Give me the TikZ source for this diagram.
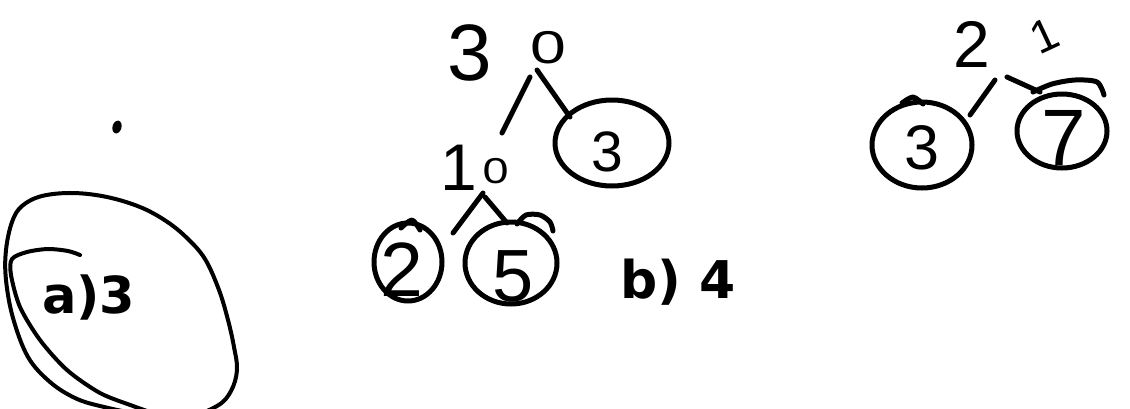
\documentclass[tikz,border=0pt]{standalone}
\usepackage{fontspec}
\usepackage{graphicx}
\newfontfamily\hwfont{Liberation Sans}
\newfontfamily\lblfont{DejaVu Sans}
\newcommand\fsz[1]{\fontsize{#1pt}{#1pt}\selectfont}
\usetikzlibrary{shapes.geometric,calc}
\tikzset{
  ink/.style={line width=5pt, line cap=round, line join=round, draw=black},
  hwtext/.style={inner sep=0pt, outer sep=0pt, font=\hwfont},
  lbltext/.style={inner sep=0pt, outer sep=0pt, font=\lblfont\bfseries},
  ring/.style={ellipse, draw=black, line width=5pt, inner sep=0pt, outer sep=0pt},
  edge/.style={ink},
  pen/.style={line width=4pt, line cap=round, line join=round, draw=black},
}
\begin{document}
\begin{tikzpicture}[x=1pt,y=-1pt]
\useasboundingbox (0,0) rectangle (1130,408);
\clip (0,0) rectangle (1130,408);
\fill[white] (0,0) rectangle (1130,408);

% ---- a) ----
\draw[pen] plot[smooth cycle, tension=0.6] coordinates {
  (42,196) (73,193) (107,197) (140,207) (166,221) (187,238) (205,259) (219,290)
  (228,320) (234,347) (237,370) (231,391) (217,406) (185,417) (140,414)
  (100,406) (75,398) (50,382) (28,357) (13,318) (6,280) (6,250) (12,222) (22,206)};
\draw[pen] plot[smooth] coordinates {(80,255) (68,251) (48,249) (27,252) (12,259) (11,275) (20,307) (40,340) (67,370) (100,393) (133,406) (150,412)};
\fill[rotate around={-15:(117,127)}] (117,127) ellipse [x radius=4.5, y radius=6.5];
\node[lbltext, anchor=base west] (la) at (42,313) {\fsz{51}a)3};

% ---- b) ----
\node[hwtext, anchor=base west] (n30) at (447,80) {\fsz{80}3\hspace{39pt}\raisebox{17pt}{\fsz{46}\scalebox{1.4}[1]{0}}};
\node[hwtext, anchor=base west] (n10) at (440,190) {\fsz{66}1\hspace{6pt}\raisebox{7pt}{\fsz{36}\scalebox{1.3}[1]{0}}};
\node[ring, minimum width=114pt, minimum height=86pt] (c3m) at (612,143) {};
\node[hwtext] (t3m) at (607,152) {\fsz{57}3};
\node[ring, minimum width=68pt, minimum height=78pt] (c2) at (408,262) {};
\node[hwtext] (t2) at (402,270) {\fsz{77}2};
\node[ring, minimum width=92pt, minimum height=82pt] (c5) at (511,263) {};
\node[hwtext] (t5) at (513,276) {\fsz{74}5};
\draw[ink] plot[smooth] coordinates {(517,224) (526,215) (540,215) (550,222) (553,231)};
\draw[ink] plot[smooth] coordinates {(401,228) (412,220) (420,230)};

\draw[edge] ($(n30.base west)+(83,-3)$) -- ($(n10.base west)+(62,-57)$);
\draw[edge] ($(n30.base west)+(90,-10)$) -- ($(c3m)+(-42,-26)$);
\draw[edge] ($(n10.base west)+(43,3)$) -- ($(c2)+(45,-29)$);
\draw[edge] ($(n10.base west)+(45,7)$) -- ($(c5)+(-4,-40)$);

\node[lbltext, anchor=base west] (lb) at (620,298) {\fsz{52}b) 4};

% ---- c) ----
\node[hwtext, anchor=base west] (n21) at (953,67) {\fsz{66}2\hspace{36pt}\raisebox{12pt}{\fsz{46}\rotatebox{25}{1}}};
\node[ring, minimum width=100pt, minimum height=86pt] (c3r) at (922,145) {};
\node[hwtext] (t3r) at (922,148) {\fsz{63}3};
\node[ring, minimum width=90pt, minimum height=74pt] (c7) at (1062,131) {};
\node[hwtext] (t7) at (1064,138) {\fsz{80}7};
\draw[ink] plot[smooth] coordinates {(1033,92) (1052,84) (1075,80) (1097,82) (1104,95)};
\draw[ink] plot[smooth] coordinates {(902,103) (913,97) (923,104)};

\draw[edge] ($(n21.base west)+(42,13)$) -- ($(c3r)+(48,-30)$);
\draw[edge] ($(n21.base west)+(54,10)$) -- ($(c7)+(-22,-39)$);
\end{tikzpicture}
\end{document}
